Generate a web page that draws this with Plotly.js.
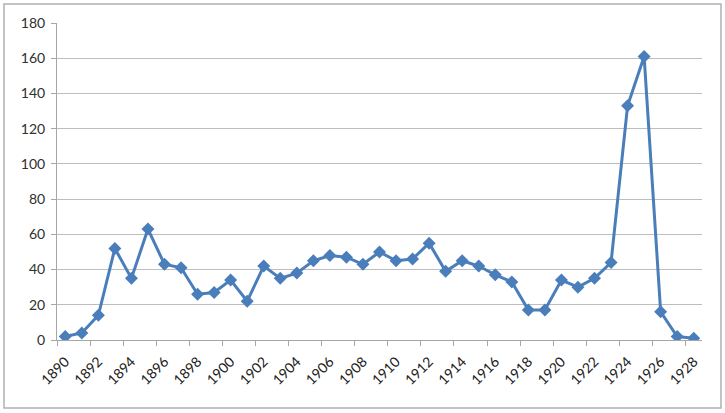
<!DOCTYPE html>
<html>
<head>
<meta charset="utf-8">
<script src="https://cdn.plot.ly/plotly-3.0.1.min.js"></script>
<style>
html,body{margin:0;padding:0;background:#fff;}
#chart{width:725px;height:413px;}
</style>
</head>
<body>
<div id="chart"></div>
<script>
const years = [1890,1891,1892,1893,1894,1895,1896,1897,1898,1899,1900,1901,1902,1903,1904,1905,1906,1907,1908,1909,1910,1911,1912,1913,1914,1915,1916,1917,1918,1919,1920,1921,1922,1923,1924,1925,1926,1927,1928];
const values = [2,4,14,52,35,63,43,41,26,27,34,22,42,35,38,45,48,47,43,50,45,46,55,39,45,42,37,33,17,17,34,30,35,44,133,161,16,2,1];
const xTickVals = [1890,1892,1894,1896,1898,1900,1902,1904,1906,1908,1910,1912,1914,1916,1918,1920,1922,1924,1926,1928];
const xTickText = xTickVals.map(String);
const yTickVals = [0,20,40,60,80,100,120,140,160,180];

const L = 57, R = 23, T = 23, B = 73, W = 725, H = 413;
const pw = W - L - R, ph = H - T - B;

Plotly.newPlot('chart', [{
  x: years,
  y: values,
  type: 'scatter',
  mode: 'lines+markers',
  line: {color: '#4a7ebb', width: 3},
  marker: {symbol: 'diamond', size: 10, color: '#4a7ebb'},
  hoverinfo: 'x+y'
}], {
  width: W, height: H,
  margin: {l: L, r: R, t: T, b: B, pad: 0},
  paper_bgcolor: '#fff',
  plot_bgcolor: '#fff',
  showlegend: false,
  font: {family: 'Lato, "Open Sans", sans-serif', size: 13, color: '#303030'},
  xaxis: {
    range: [1889.5, 1928.5],
    tickmode: 'array',
    tickvals: xTickVals,
    ticktext: xTickText,
    tickangle: -45,
    tickfont: {size: 14, color: '#202020'},
    ticklabelstandoff: 7,
    ticks: '',
    showgrid: false,
    zeroline: false,
    showline: true,
    linecolor: '#a6a6a6',
    linewidth: 1,
    fixedrange: true,
    minor: {ticks: 'outside', tick0: 1889.5, dtick: 2, ticklen: 5, tickcolor: '#a6a6a6', showgrid: false}
  },
  yaxis: {
    range: [0, 180],
    tickmode: 'array',
    tickvals: yTickVals,
    ticktext: yTickVals.map(String),
    tickfont: {size: 14, color: '#303030'},
    ticklabelstandoff: 3,
    ticks: 'outside',
    ticklen: 5,
    tickcolor: '#a6a6a6',
    showgrid: true,
    gridcolor: '#bdbdbd',
    gridwidth: 1.2,
    zeroline: false,
    showline: true,
    linecolor: '#a6a6a6',
    linewidth: 1,
    fixedrange: true
  },
  shapes: [{
    type: 'rect', xref: 'paper', yref: 'paper',
    x0: (4 - L) / pw, x1: (721 - L) / pw,
    y0: 1 - (408 - T) / ph, y1: 1 - (4 - T) / ph,
    line: {color: '#b0b0b0', width: 1.5},
    fillcolor: 'rgba(0,0,0,0)',
    layer: 'below'
  }]
}, {displayModeBar: false, staticPlot: true});
</script>
</body>
</html>
